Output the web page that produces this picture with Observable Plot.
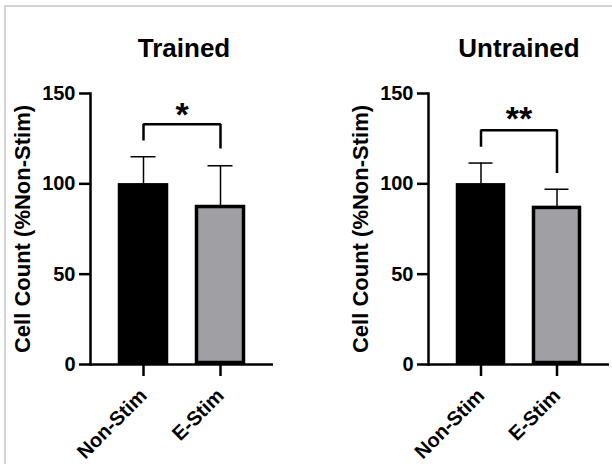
<!DOCTYPE html>
<html>
<head>
<meta charset="utf-8">
<script src="https://cdn.jsdelivr.net/npm/d3@7"></script>
<script src="https://cdn.jsdelivr.net/npm/@observablehq/plot@0.6"></script>
<style>
  html, body { margin: 0; padding: 0; background: #fff; }
  #wrap { position: relative; width: 612px; height: 464px; overflow: hidden; background: #fff; }
  #border { position: absolute; left: 4px; top: 5px; width: 620px; height: 480px; border-top: 2px solid #d4d4d4; border-left: 2px solid #d4d4d4; box-sizing: border-box; }
  .panel { position: absolute; top: 0; }
</style>
</head>
<body>
<div id="wrap">
  <div id="border"></div>
  <div id="p1" class="panel" style="left:0px"></div>
  <div id="p2" class="panel" style="left:306px"></div>
</div>
<script>
// ---- data ----
const groups = ["Non-Stim", "E-Stim"];
const panelTitles = ["Trained", "Untrained"];
const yLabel = "Cell Count (%Non-Stim)";
const yTicks = [0, 50, 100, 150];
const trainedMeans = [100, 88];
const trainedUpper = [115, 110];
const untrainedMeans = [100, 87.5];
const untrainedUpper = [111.5, 97];
// bracket: [left leg bottom, top bar, right leg bottom]
const trainedBracket = [124, 133, 119.5];
const untrainedBracket = [120.5, 129.7, 106];
const trainedSig = "*";
const untrainedSig = "**";
const trainedSigY = 138;
const untrainedSigY = 136;

const FONT = "'Liberation Sans', Arial, Helvetica, sans-serif";

function panel({title, means, upper, bracket, sig, sigY, marginLeft, marginRight, titleDx}) {
  const data = groups.map((g, i) => ({group: g, mean: means[i], upper: upper[i]}));
  const br = [
    {group: groups[0], v: bracket[0]},
    {group: groups[0], v: bracket[1]},
    {group: groups[1], v: bracket[1]},
    {group: groups[1], v: bracket[2]}
  ];
  return Plot.plot({
    width: 306,
    height: 464,
    marginLeft,
    marginRight,
    marginTop: 93,
    marginBottom: 100,
    style: {fontFamily: FONT, background: "transparent", overflow: "visible"},
    x: {domain: groups, paddingInner: 0.35, paddingOuter: 0.363, label: null},
    y: {domain: [0, 150], label: null},
    color: {domain: groups, range: ["#000000", "#a0a0a4"]},
    marks: [
      Plot.ruleX(data, {x: "group", y1: "mean", y2: "upper", stroke: "#000", strokeWidth: 1.5}),
      Plot.tickY(data, {x: "group", y: "upper", stroke: "#000", strokeWidth: 1.5, inset: 12.5}),
      Plot.barY(data, {x: "group", y: "mean", fill: "group", stroke: "#000", strokeWidth: 3.5, inset: 1.5}),
      Plot.line(br, {x: "group", y: "v", stroke: "#000", strokeWidth: 2.5, strokeLinejoin: "miter", strokeLinecap: "butt"}),
      Plot.text([sig], {y: () => sigY, text: d => d, fontSize: 34, fontWeight: "bold", fill: "#000", lineAnchor: "middle"}),
      Plot.text([title], {frameAnchor: "top", text: d => d, dy: -44.5, dx: titleDx, fontSize: 26, fontWeight: "bold", fill: "#000", lineAnchor: "middle", textAnchor: "middle"}),
      Plot.text([yLabel], {frameAnchor: "left", text: d => d, rotate: -90, dx: -68, fontSize: 22, fontWeight: "bold", fill: "#000", lineAnchor: "middle", textAnchor: "middle"}),
      Plot.frame({anchor: "left", stroke: "#000", strokeWidth: 2.5}),
      Plot.ruleY([0], {stroke: "#000", strokeWidth: 2.5}),
      Plot.axisY({ticks: yTicks, tickSize: 11, tickPadding: 4, strokeWidth: 2.5, fontSize: 20, fontWeight: "bold", fill: "#000", label: null}),
      Plot.axisX({tickSize: 12, tickPadding: 16, strokeWidth: 2.5, tickRotate: -45, fontSize: 20, fontWeight: "bold", fill: "#000", label: null})
    ]
  });
}

document.getElementById("p1").append(panel({
  title: panelTitles[0], means: trainedMeans, upper: trainedUpper, bracket: trainedBracket,
  sig: trainedSig, sigY: trainedSigY, marginLeft: 90, marginRight: 33, titleDx: 2
}));
document.getElementById("p2").append(panel({
  title: panelTitles[1], means: untrainedMeans, upper: untrainedUpper, bracket: untrainedBracket,
  sig: untrainedSig, sigY: untrainedSigY, marginLeft: 122, marginRight: 3, titleDx: 0
}));
</script>
</body>
</html>
